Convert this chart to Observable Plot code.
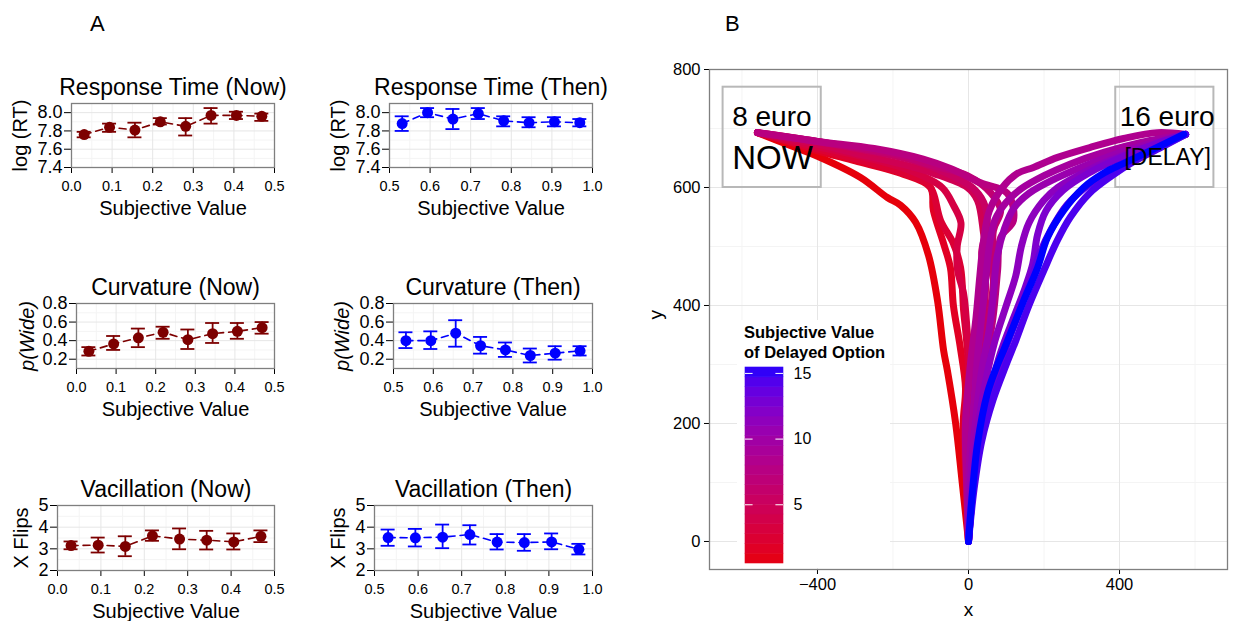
<!DOCTYPE html>
<html><head><meta charset="utf-8">
<script src="https://cdn.jsdelivr.net/npm/d3@7"></script>
<script src="https://cdn.jsdelivr.net/npm/@observablehq/plot@0.6"></script>
<style>
body{margin:0;background:#fff;}
#root{position:relative;width:1233px;height:621px;overflow:hidden;background:#fff;font-family:"Liberation Sans",Arial,Helvetica,sans-serif;}
.txt{position:absolute;color:#000;white-space:nowrap;}
.small [aria-label="y-axis tick label"]{font-size:18px;}
.small [aria-label="x-axis tick label"]{font-size:14.5px;}
.bigB [aria-label="y-axis tick label"], .bigB [aria-label="x-axis tick label"]{font-size:16.5px;}
</style></head><body><div id="root"></div>
<script>
// ---------------- Panel A data ----------------
const xNow  = [0.03125, 0.09375, 0.15625, 0.21875, 0.28125, 0.34375, 0.40625, 0.46875];
const xThen = [0.53125, 0.59375, 0.65625, 0.71875, 0.78125, 0.84375, 0.90625, 0.96875];

const rtNow    = [7.76, 7.84, 7.81, 7.90, 7.85, 7.97, 7.97, 7.96];
const rtNowLo  = [7.73, 7.79, 7.73, 7.87, 7.75, 7.88, 7.93, 7.91];
const rtNowHi  = [7.79, 7.88, 7.89, 7.94, 7.94, 8.05, 8.01, 7.99];
const rtThen   = [7.88, 8.00, 7.93, 7.99, 7.91, 7.89, 7.90, 7.89];
const rtThenLo = [7.80, 7.95, 7.82, 7.93, 7.85, 7.84, 7.85, 7.85];
const rtThenHi = [7.96, 8.05, 8.04, 8.05, 7.96, 7.95, 7.95, 7.93];

const curvNow    = [0.285, 0.365, 0.43, 0.49, 0.41, 0.475, 0.50, 0.54];
const curvNowLo  = [0.24, 0.30, 0.33, 0.42, 0.31, 0.375, 0.42, 0.475];
const curvNowHi  = [0.33, 0.45, 0.53, 0.55, 0.52, 0.59, 0.59, 0.60];
const curvThen   = [0.40, 0.40, 0.48, 0.345, 0.30, 0.24, 0.265, 0.29];
const curvThenLo = [0.32, 0.31, 0.335, 0.26, 0.225, 0.165, 0.195, 0.24];
const curvThenHi = [0.49, 0.50, 0.62, 0.44, 0.38, 0.315, 0.34, 0.34];

const vacNow    = [3.15, 3.17, 3.11, 3.60, 3.45, 3.40, 3.32, 3.58];
const vacNowLo  = [2.98, 2.83, 2.66, 3.37, 2.98, 2.97, 2.97, 3.31];
const vacNowHi  = [3.34, 3.52, 3.58, 3.85, 3.94, 3.83, 3.71, 3.85];
const vacThen   = [3.52, 3.51, 3.54, 3.66, 3.31, 3.29, 3.32, 2.98];
const vacThenLo = [3.14, 3.11, 3.03, 3.20, 2.97, 2.91, 2.98, 2.74];
const vacThenHi = [3.89, 3.92, 4.12, 4.09, 3.68, 3.68, 3.71, 3.23];

const xTicksNow  = [0, 0.1, 0.2, 0.3, 0.4, 0.5];
const xMinorNow  = [0.05, 0.15, 0.25, 0.35, 0.45];
const xTicksThen = [0.5, 0.6, 0.7, 0.8, 0.9, 1.0];
const xMinorThen = [0.55, 0.65, 0.75, 0.85, 0.95];
const yTicksRT   = [7.4, 7.6, 7.8, 8.0];
const yMinorRT   = [7.5, 7.7, 7.9];
const yTicksCurv = [0.2, 0.4, 0.6, 0.8];
const yMinorCurv = [0.3, 0.5, 0.7];
const yTicksVac  = [2, 3, 4, 5];
const yMinorVac  = [2.5, 3.5, 4.5];

// ---------------- Panel B data ----------------
const trajValues = [0.5, 1.5, 2.5, 3.5, 4.5, 5.5, 6.5, 7.5, 8.5, 9.5, 10.5, 11.5, 12.5, 13.5, 14.5, 15.5];
const traj00 = [[0,0],[-18,108],[-34,200],[-56,290],[-66,324],[-82,408],[-106,485],[-140,541],[-180,570],[-215,583],[-286,617],[-400,653],[-472,671],[-559,693]];
const traj01 = [[0,0],[-6,100],[-14,200],[-8,260],[-22,330],[-40,400],[-48,464],[-66,505],[-93,561],[-101,600],[-180,624],[-300,645],[-400,662],[-480,678],[-559,693]];
const traj02 = [[0,0],[-4,110],[-10,200],[0,280],[-5,340],[-13,392],[-21,464],[-40,505],[-74,544],[-93,590],[-109,607],[-200,630],[-320,652],[-440,672],[-559,693]];
const traj03 = [[0,0],[-2,100],[-6,200],[5,290],[-3,353],[-13,420],[-29,460],[-30,500],[-20,540],[-40,570],[-70,600],[-160,630],[-280,652],[-420,672],[-559,693]];
const traj04 = [[0,0],[3,100],[8,200],[13,290],[24,353],[32,408],[50,464],[40,522],[24,578],[-3,600],[-93,624],[-180,640],[-300,658],[-420,676],[-559,693]];
const traj05 = [[0,0],[6,100],[15,200],[28,300],[40,380],[45,440],[35,490],[50,540],[40,575],[10,600],[-60,625],[-160,648],[-280,664],[-420,680],[-559,693]];
const traj06 = [[0,0],[8,100],[20,200],[35,300],[55,380],[66,440],[66,527],[85,561],[60,590],[-3,620],[-93,637],[-180,654],[-300,668],[-420,680],[-559,693]];
const traj07 = [[0,0],[12,100],[25,200],[45,300],[65,380],[77,459],[85,515],[119,544],[103,590],[32,608],[-48,632],[-120,648],[-250,666],[-400,678],[-559,693]];
const traj08 = [[0,0],[-5,100],[-8,200],[5,300],[20,380],[30,450],[40,510],[55,560],[90,600],[130,624],[172,634],[236,651],[323,668],[411,683],[500,693],[575,690]];
const traj09 = [[0,0],[0,100],[10,200],[22,300],[35,380],[45,440],[55,500],[70,545],[100,575],[140,598],[200,620],[270,640],[360,660],[460,677],[575,690]];
const traj10 = [[0,0],[5,100],[18,200],[35,290],[55,360],[66,420],[75,480],[95,530],[120,565],[160,590],[230,615],[320,640],[420,663],[575,690]];
const traj11 = [[0,0],[10,100],[25,190],[45,270],[70,340],[100,400],[125,450],[140,500],[160,540],[199,578],[236,600],[320,630],[420,657],[575,690]];
const traj12 = [[0,0],[12,100],[30,180],[55,250],[85,320],[120,380],[150,430],[170,470],[183,520],[205,560],[250,595],[320,625],[420,655],[500,675],[575,690]];
const traj13 = [[0,0],[16,110],[40,200],[70,270],[100,330],[135,390],[164,440],[190,490],[220,530],[260,570],[320,605],[400,635],[480,660],[575,690]];
const traj14 = [[0,0],[15,90],[35,170],[65,240],[100,300],[125,340],[160,400],[200,460],[235,510],[270,550],[320,590],[380,620],[440,645],[510,668],[575,690]];
const traj15 = [[0,0],[10,80],[24,166],[50,251],[77,300],[93,324],[146,408],[183,464],[209,515],[252,561],[305,600],[360,625],[411,641],[490,665],[570,690]];
const trajectories = [traj00,traj01,traj02,traj03,traj04,traj05,traj06,traj07,traj08,traj09,traj10,traj11,traj12,traj13,traj14,traj15];

const optionBoxes = [
  {x1: -650, x2: -390, y1: 600, y2: 770},
  {x1: 390, x2: 650, y1: 600, y2: 770}
];
const nowLabels   = [{text: "8 euro", x: -626, y: 719, size: 28}, {text: "NOW", x: -626, y: 650, size: 33}];
const delayLabels = [{text: "16 euro", x: 652, y: 719, size: 28}, {text: "[DELAY]", x: 642, y: 650, size: 23}];
const legendTicks = [5, 10, 15];
const colorLimits = [0.5, 15.5];
const barLimits = [0.53, 15.45];

// ---------------- helpers ----------------
const FONT = '"Liberation Sans", Arial, Helvetica, sans-serif';
const root = document.getElementById("root");
const LOW = "#e6000a", HIGH = "#0000ff";
const NOWCOL = "#7d0000", THENCOL = "#0000ff";

function put(node, left, top) {
  node.style.position = "absolute";
  node.style.left = left + "px";
  node.style.top = top + "px";
  root.appendChild(node);
}
function addText(str, left, top, css) {
  const d = document.createElement("div");
  d.className = "txt";
  d.textContent = str;
  Object.assign(d.style, css || {});
  put(d, left, top);
  return d;
}
function baseStyle(size) {
  return {background: "transparent", overflow: "visible", fontFamily: FONT, fontSize: size + "px", color: "#000"};
}

function smallPlot(c) {
  const rows = c.x.map((xi, i) => ({x: xi, y: c.y[i], lo: c.lo[i], hi: c.hi[i]}));
  const mt = 50, mb = 60, mr = 25;
  const ml = c.L - c.col;
  const width = c.R + mr - c.col;
  const height = (c.B - c.T) + mt + mb;
  const cap = (c.xDomain[1] - c.xDomain[0]) * 7 / (c.R - c.L);
  const p = Plot.plot({
    className: "small",
    width, height, marginLeft: ml, marginRight: mr, marginTop: mt, marginBottom: mb,
    style: baseStyle(15),
    x: {domain: c.xDomain, ticks: c.xTicks, tickFormat: d3.format(".1f"), tickSize: 6, tickPadding: 7, label: null},
    y: {domain: c.yDomain, ticks: c.yTicks, tickFormat: c.yFmt, tickSize: 7, tickPadding: 2, label: null},
    marks: [
      Plot.ruleX(c.xMinor, {stroke: "#f4f4f4", strokeWidth: 1}),
      Plot.ruleY(c.yMinor, {stroke: "#f4f4f4", strokeWidth: 1}),
      Plot.ruleX(c.xTicks, {stroke: "#e6e6e6", strokeWidth: 1}),
      Plot.ruleY(c.yTicks, {stroke: "#e6e6e6", strokeWidth: 1}),
      Plot.frame({stroke: "#7f7f7f", strokeWidth: 1.3}),
      Plot.line(rows, {x: "x", y: "y", stroke: c.color, strokeWidth: 1.6, strokeDasharray: "7,5"}),
      Plot.ruleX(rows, {x: "x", y1: "lo", y2: "hi", stroke: c.color, strokeWidth: 1.8}),
      Plot.ruleY(rows, {y: "lo", x1: d => d.x - cap, x2: d => d.x + cap, stroke: c.color, strokeWidth: 1.8}),
      Plot.ruleY(rows, {y: "hi", x1: d => d.x - cap, x2: d => d.x + cap, stroke: c.color, strokeWidth: 1.8}),
      Plot.dot(rows, {x: "x", y: "y", r: 5.5, fill: c.color, stroke: null}),
      Plot.text([c.title], {frameAnchor: "top", dy: -9, lineAnchor: "bottom", fontSize: 23}),
      Plot.text(["Subjective Value"], {frameAnchor: "bottom", dy: 47, lineAnchor: "bottom", fontSize: 20}),
      Plot.text([c.ylab], {x: () => c.xDomain[0], y: () => (c.yDomain[0] + c.yDomain[1]) / 2, dx: c.ylabX - c.L,
        rotate: -90, textAnchor: "middle", lineAnchor: "middle", fontSize: 20, fontStyle: c.italic ? "italic" : "normal"})
    ]
  });
  put(p, c.col, c.T - mt);
}

const f1 = d3.format(".1f"), f0 = d3.format("d");
smallPlot({col: 0, L: 71, T: 103, R: 274, B: 167, xDomain: [0, 0.5], xTicks: xTicksNow, xMinor: xMinorNow,
  yDomain: [7.4, 8.1], yTicks: yTicksRT, yMinor: yMinorRT, yFmt: f1,
  x: xNow, y: rtNow, lo: rtNowLo, hi: rtNowHi, color: NOWCOL, title: "Response Time (Now)", ylab: "log (RT)", ylabX: 20});
smallPlot({col: 310, L: 389, T: 103, R: 592, B: 167, xDomain: [0.5, 1.0], xTicks: xTicksThen, xMinor: xMinorThen,
  yDomain: [7.4, 8.1], yTicks: yTicksRT, yMinor: yMinorRT, yFmt: f1,
  x: xThen, y: rtThen, lo: rtThenLo, hi: rtThenHi, color: THENCOL, title: "Response Time (Then)", ylab: "log (RT)", ylabX: 338});
smallPlot({col: 0, L: 76, T: 303, R: 274, B: 368, xDomain: [0, 0.5], xTicks: xTicksNow, xMinor: xMinorNow,
  yDomain: [0.1, 0.8], yTicks: yTicksCurv, yMinor: yMinorCurv, yFmt: f1,
  x: xNow, y: curvNow, lo: curvNowLo, hi: curvNowHi, color: NOWCOL, title: "Curvature (Now)", ylab: "p(Wide)", ylabX: 27, italic: true});
smallPlot({col: 310, L: 393, T: 303, R: 592, B: 368, xDomain: [0.5, 1.0], xTicks: xTicksThen, xMinor: xMinorThen,
  yDomain: [0.1, 0.8], yTicks: yTicksCurv, yMinor: yMinorCurv, yFmt: f1,
  x: xThen, y: curvThen, lo: curvThenLo, hi: curvThenHi, color: THENCOL, title: "Curvature (Then)", ylab: "p(Wide)", ylabX: 342, italic: true});
smallPlot({col: 0, L: 57, T: 505, R: 274, B: 570, xDomain: [0, 0.5], xTicks: xTicksNow, xMinor: xMinorNow,
  yDomain: [2, 5], yTicks: yTicksVac, yMinor: yMinorVac, yFmt: f0,
  x: xNow, y: vacNow, lo: vacNowLo, hi: vacNowHi, color: NOWCOL, title: "Vacillation (Now)", ylab: "X Flips", ylabX: 21});
smallPlot({col: 310, L: 374, T: 505, R: 592, B: 570, xDomain: [0.5, 1.0], xTicks: xTicksThen, xMinor: xMinorThen,
  yDomain: [2, 5], yTicks: yTicksVac, yMinor: yMinorVac, yFmt: f0,
  x: xThen, y: vacThen, lo: vacThenLo, hi: vacThenHi, color: THENCOL, title: "Vacillation (Then)", ylab: "X Flips", ylabX: 338});

// ---------------- Panel B ----------------
const trajRows = [];
trajectories.forEach((pts, i) => pts.forEach(([x, y]) => trajRows.push({v: trajValues[i], x, y})));
const colorScale = {type: "linear", domain: colorLimits, range: [LOW, HIGH], interpolate: "lab"};

const pB = Plot.plot({
  className: "bigB",
  width: 593, height: 581, marginLeft: 69, marginRight: 6, marginTop: 29, marginBottom: 52,
  style: baseStyle(16),
  x: {domain: [-686, 686], ticks: [-400, 0, 400], tickSize: 5, tickPadding: 4, label: null},
  y: {domain: [-47.5, 800], ticks: [0, 200, 400, 600, 800], tickSize: 5, tickPadding: 4, label: null},
  color: colorScale,
  marks: [
    Plot.ruleX([-600, -200, 200, 600], {stroke: "#f4f4f4"}),
    Plot.ruleY([100, 300, 500, 700], {stroke: "#f4f4f4"}),
    Plot.ruleX([-400, 0, 400], {stroke: "#e6e6e6"}),
    Plot.ruleY([0, 200, 400, 600, 800], {stroke: "#e6e6e6"}),
    Plot.frame({stroke: "#7f7f7f", strokeWidth: 1.3}),
    Plot.rect(optionBoxes, {x1: "x1", x2: "x2", y1: "y1", y2: "y2", fill: "none", stroke: "#b8b8b8", strokeWidth: 2}),
    Plot.line(trajRows, {x: "x", y: "y", z: "v", stroke: "v", strokeWidth: 7, strokeLinejoin: "round", strokeLinecap: "round", curve: "catmull-rom"}),
    Plot.text(nowLabels, {x: "x", y: "y", text: "text", textAnchor: "start", fontSize: "size"}),
    Plot.text(delayLabels, {x: "x", y: "y", text: "text", textAnchor: "end", fontSize: "size"}),
    Plot.text(["x"], {frameAnchor: "bottom", dy: 46, lineAnchor: "bottom", fontSize: 19}),
    Plot.text(["y"], {frameAnchor: "left", dx: -54, rotate: -90, fontSize: 19})
  ]
});
put(pB, 640, 40);

// legend
const legBg = document.createElement("div");
Object.assign(legBg.style, {width: "153px", height: "248px", background: "#fff"});
put(legBg, 737, 320);
addText("Subjective Value", 744, 322, {fontSize: "16.5px", fontWeight: "bold", lineHeight: "20px"});
addText("of Delayed Option", 744, 342, {fontSize: "16.5px", fontWeight: "bold", lineHeight: "20px"});

const nBins = 20;
const bins = d3.range(nBins).map(i => {
  const a = barLimits[0] + (barLimits[1] - barLimits[0]) * i / nBins;
  const b = barLimits[0] + (barLimits[1] - barLimits[0]) * (i + 1) / nBins;
  return {y1: a, y2: b, v: (a + b) / 2};
});
const pL = Plot.plot({
  width: 80, height: 196, marginLeft: 0, marginRight: 42, marginTop: 0, marginBottom: 0,
  style: baseStyle(16),
  x: {domain: [0, 1], axis: null},
  y: {domain: barLimits, ticks: legendTicks, axis: "right", tickSize: 0, tickPadding: 10, label: null},
  color: colorScale,
  marks: [
    Plot.rect(bins, {x1: 0, x2: 1, y1: "y1", y2: "y2", fill: "v", stroke: "v", strokeWidth: 0.6}),
    Plot.ruleY(legendTicks, {x1: 0, x2: 0.2, stroke: "white", strokeWidth: 1}),
    Plot.ruleY(legendTicks, {x1: 0.8, x2: 1, stroke: "white", strokeWidth: 1})
  ]
});
put(pL, 745, 367);

// panel letters
addText("A", 90, 11, {fontSize: "22px"});
addText("B", 725, 11, {fontSize: "22px"});
</script></body></html>
